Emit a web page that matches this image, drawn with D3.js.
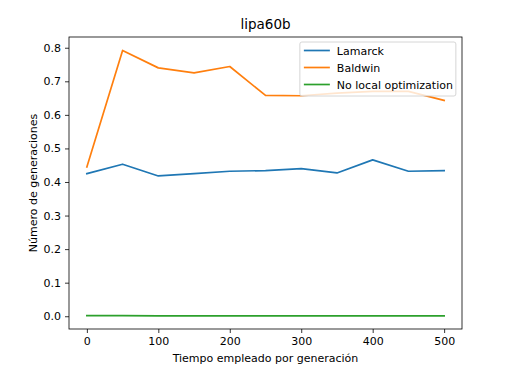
<!DOCTYPE html>
<html>
<head>
<meta charset="utf-8">
<script src="https://cdn.jsdelivr.net/npm/d3@7"></script>
<style>
  body { margin: 0; background: #fff; }
  text { font-family: "DejaVu Sans", sans-serif; fill: #000; }
</style>
</head>
<body>
<div id="chart"></div>
<script>
// data
var tiempos = [0, 50, 100, 150, 200, 250, 300, 350, 400, 450, 500];
var lamarck = [0.425, 0.453, 0.418, 0.425, 0.432, 0.434, 0.440, 0.427, 0.466, 0.432, 0.434];
var baldwin = [0.445, 0.792, 0.740, 0.725, 0.744, 0.658, 0.657, 0.665, 0.670, 0.670, 0.643];
var noLocal = [0.002, 0.002, 0.001, 0.001, 0.001, 0.001, 0.001, 0.001, 0.001, 0.001, 0.001];
var seriesNames = ["Lamarck", "Baldwin", "No local optimization"];
var xTicks = [0, 100, 200, 300, 400, 500];
var yTicks = [0.0, 0.1, 0.2, 0.3, 0.4, 0.5, 0.6, 0.7, 0.8];

var W = 529, H = 376;
var margin = {top: 37, right: 67, bottom: 47, left: 69};
var width = W - margin.left - margin.right,
    height = H - margin.top - margin.bottom;

var x = d3.scaleLinear().domain([-25, 525]).range([0, width]);
var y = d3.scaleLinear().domain([-0.038, 0.832]).range([height, 0]);
var color = d3.scaleOrdinal().domain(seriesNames).range(["#1f77b4", "#ff7f0e", "#2ca02c"]);

var svg = d3.select("#chart").append("svg")
    .attr("width", W).attr("height", H)
  .append("g")
    .attr("transform", "translate(" + margin.left + "," + margin.top + ")");

var series = [lamarck, baldwin, noLocal].map(function(vals, i) {
  return {name: seriesNames[i], values: vals.map(function(v, j) { return {t: tiempos[j], v: v}; })};
});

var line = d3.line()
    .x(function(d) { return x(d.t); })
    .y(function(d) { return y(d.v); });

series.forEach(function(s) {
  svg.append("path")
    .attr("d", line(s.values))
    .attr("fill", "none")
    .attr("stroke", color(s.name))
    .attr("stroke-width", 1.7)
    .attr("stroke-linejoin", "round")
    .attr("stroke-linecap", "square");
});

// axes
var xAxis = svg.append("g")
    .attr("transform", "translate(0," + height + ")")
    .call(d3.axisBottom(x).tickValues(xTicks).tickSize(4).tickPadding(4).tickFormat(d3.format("d")));
var yAxis = svg.append("g")
    .call(d3.axisLeft(y).tickValues(yTicks).tickSize(4).tickPadding(4).tickFormat(d3.format(".1f")));
[xAxis, yAxis].forEach(function(a) {
  a.select(".domain").remove();
  a.selectAll("line").attr("stroke", "#000").attr("stroke-width", 0.8);
  a.selectAll("text").style("font-family", "DejaVu Sans").style("font-size", "11px").attr("fill", "#000");
});

// frame
svg.append("rect")
  .attr("width", width).attr("height", height)
  .attr("fill", "none").attr("stroke", "#000").attr("stroke-width", 0.8);

// title and labels
svg.append("text")
  .attr("x", width / 2).attr("y", -8)
  .attr("text-anchor", "middle")
  .style("font-size", "13.5px")
  .text("lipa60b");

svg.append("text")
  .attr("x", width / 2).attr("y", height + 33)
  .attr("text-anchor", "middle")
  .style("font-size", "11px")
  .text("Tiempo empleado por generación");

svg.append("text")
  .attr("transform", "rotate(-90)")
  .attr("x", -height / 2).attr("y", -32)
  .attr("text-anchor", "middle")
  .style("font-size", "11px")
  .text("Número de generaciones");

// legend
var legend = svg.append("g").attr("transform", "translate(" + (x(0) + 213) + ",5)");
legend.append("rect")
  .attr("x", 0).attr("y", 0).attr("width", 156).attr("height", 54).attr("rx", 2)
  .attr("fill", "#fff").attr("fill-opacity", 0.8)
  .attr("stroke", "#ccc").attr("stroke-width", 0.8);
seriesNames.forEach(function(n, i) {
  var ly = 8.5 + i * 17;
  legend.append("line")
    .attr("x1", 4).attr("x2", 30).attr("y1", ly).attr("y2", ly)
    .attr("stroke", color(n)).attr("stroke-width", 1.7);
  legend.append("text")
    .attr("x", 37).attr("y", ly + 4)
    .style("font-size", "11px")
    .text(n);
});
</script>
</body>
</html>
